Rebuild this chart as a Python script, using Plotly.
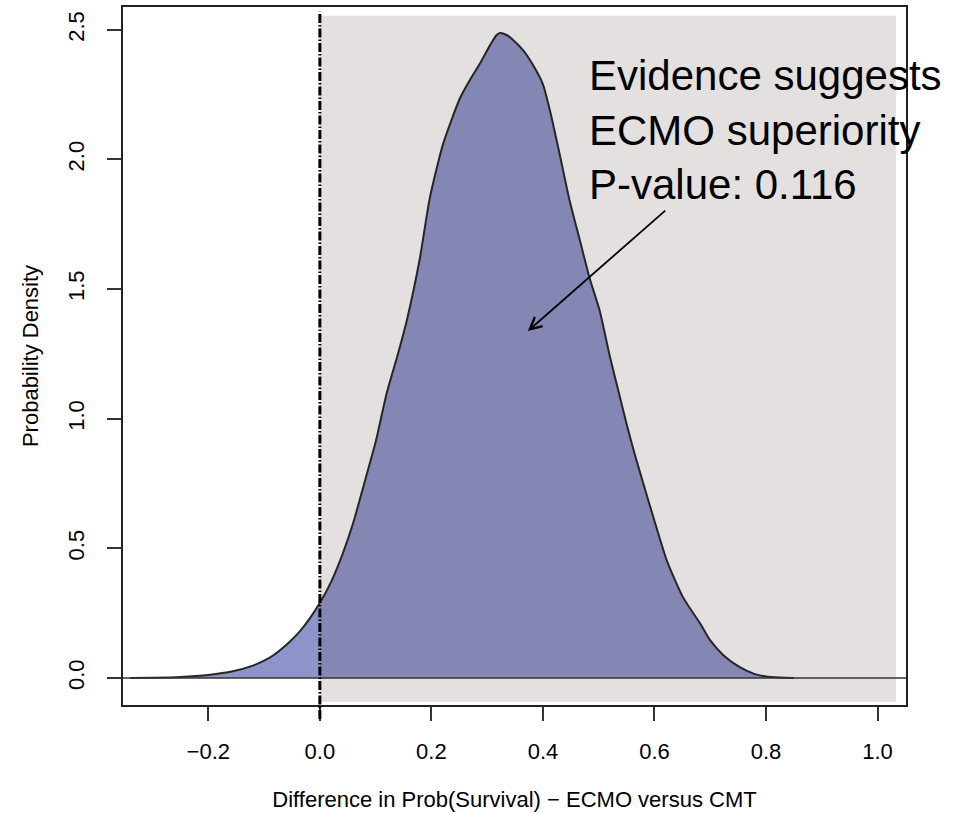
import plotly.graph_objects as go

# ---- data ----
diff_x = [-0.34, -0.30, -0.25, -0.20, -0.156, -0.12, -0.10, -0.084, -0.054, -0.036, -0.018,
          0.0, 0.02, 0.041, 0.06, 0.084, 0.10, 0.12, 0.14, 0.156, 0.179, 0.197, 0.221,
          0.251, 0.27, 0.287, 0.305, 0.317, 0.323, 0.335, 0.346, 0.365, 0.382, 0.40,
          0.413, 0.43, 0.448, 0.466, 0.484, 0.502, 0.52, 0.535, 0.55, 0.565, 0.58,
          0.598, 0.622, 0.651, 0.682, 0.70, 0.725, 0.753, 0.78, 0.80, 0.825, 0.85]
density = [0.0, 0.001, 0.004, 0.012, 0.026, 0.048, 0.067, 0.087, 0.14, 0.18, 0.23,
           0.29, 0.37, 0.48, 0.60, 0.785, 0.91, 1.10, 1.25, 1.38, 1.615, 1.85, 2.06,
           2.235, 2.31, 2.37, 2.44, 2.48, 2.488, 2.48, 2.462, 2.42, 2.365, 2.29,
           2.185, 2.02, 1.84, 1.69, 1.54, 1.415, 1.24, 1.11, 0.98, 0.86, 0.75,
           0.62, 0.454, 0.312, 0.21, 0.145, 0.085, 0.042, 0.015, 0.006, 0.002, 0.0]

x_tickvals = [-0.2, 0.0, 0.2, 0.4, 0.6, 0.8, 1.0]
x_ticktext = ["\u22120.2", "0.0", "0.2", "0.4", "0.6", "0.8", "1.0"]
y_tickvals = [0.0, 0.5, 1.0, 1.5, 2.0, 2.5]
y_ticktext = ["0.0", "0.5", "1.0", "1.5", "2.0", "2.5"]

annotation_text = "Evidence suggests<br>ECMO superiority<br>P-value: 0.116"
x_title = "Difference in Prob(Survival) \u2212 ECMO versus CMT"
y_title = "Probability Density"

# ---- styling ----
FONT = "Liberation Sans, Arial, sans-serif"
XR = [-0.353, 1.051]
YR = [-0.104, 2.588]
LEFT_FILL = "#8e94c9"
RIGHT_FILL = "#8486b3"
SHADE = "#e3e0df"

left_x = [x for x in diff_x if x <= 0]
left_y = [d for x, d in zip(diff_x, density) if x <= 0]
right_x = [x for x in diff_x if x >= 0]
right_y = [d for x, d in zip(diff_x, density) if x >= 0]

fig = go.Figure()
fig.add_trace(go.Scatter(x=left_x, y=left_y, mode="lines", fill="tozeroy",
                         fillcolor=LEFT_FILL, line=dict(width=0, shape="spline", smoothing=0.6),
                         hoverinfo="skip", showlegend=False))
fig.add_trace(go.Scatter(x=right_x, y=right_y, mode="lines", fill="tozeroy",
                         fillcolor=RIGHT_FILL, line=dict(width=0, shape="spline", smoothing=0.6),
                         hoverinfo="skip", showlegend=False))
fig.add_trace(go.Scatter(x=diff_x, y=density, mode="lines",
                         line=dict(color="#262626", width=2, shape="spline", smoothing=0.6),
                         showlegend=False))

# shaded region (x > 0)
fig.add_shape(type="rect", xref="x", yref="y", x0=0, x1=1.033, y0=-0.091, y1=2.554,
              fillcolor=SHADE, line=dict(width=0), layer="below")
# horizontal line at zero
fig.add_shape(type="line", xref="x domain", yref="y", x0=0, x1=1, y0=0, y1=0,
              line=dict(color="#333333", width=1.5), layer="above")
# vertical dash-dot line at zero (extends slightly below the box)
xd = (0 - XR[0]) / (XR[1] - XR[0])
yb = (-0.158 - YR[0]) / (YR[1] - YR[0])
yt = (2.57 - YR[0]) / (YR[1] - YR[0])
fig.add_shape(type="line", xref="x domain", yref="paper", x0=xd, x1=xd, y0=yb, y1=yt,
              line=dict(color="black", width=3, dash="9px,2px,1.5px,2px"), layer="above")

fig.add_annotation(x=0.479, y=2.115, xref="x", yref="y", text=annotation_text,
                   showarrow=False, xanchor="left", yanchor="middle", align="left",
                   font=dict(family=FONT, size=42, color="black"))
fig.add_annotation(x=0.373, y=1.338, ax=0.622, ay=1.808, xref="x", yref="y",
                   axref="x", ayref="y", text="", showarrow=True, arrowhead=5,
                   arrowsize=1.3, arrowwidth=1.8, arrowcolor="black",
                   standoff=0, startstandoff=0)

axis_common = dict(showline=True, linecolor="#222222", linewidth=1.5, mirror=True,
                   ticks="outside", ticklen=14, tickwidth=1.5, tickcolor="#333333",
                   showgrid=False, zeroline=False,
                   tickfont=dict(family=FONT, size=22, color="black"))

fig.update_xaxes(range=XR, tickvals=x_tickvals, ticktext=x_ticktext,
                 ticklabelstandoff=12,
                 title=dict(text=x_title, font=dict(family=FONT, size=22, color="black"),
                            standoff=28),
                 **axis_common)
fig.update_yaxes(range=YR, tickvals=y_tickvals, ticktext=y_ticktext, tickangle=-90,
                 ticklabelstandoff=14,
                 title=dict(text=y_title, font=dict(family=FONT, size=22, color="black"),
                            standoff=20),
                 **axis_common)

fig.update_layout(width=955, height=813, margin=dict(l=123, r=49, t=5, b=108),
                  paper_bgcolor="white", plot_bgcolor="white",
                  font=dict(family=FONT, color="black"), showlegend=False)

fig.write_html("out.html")
